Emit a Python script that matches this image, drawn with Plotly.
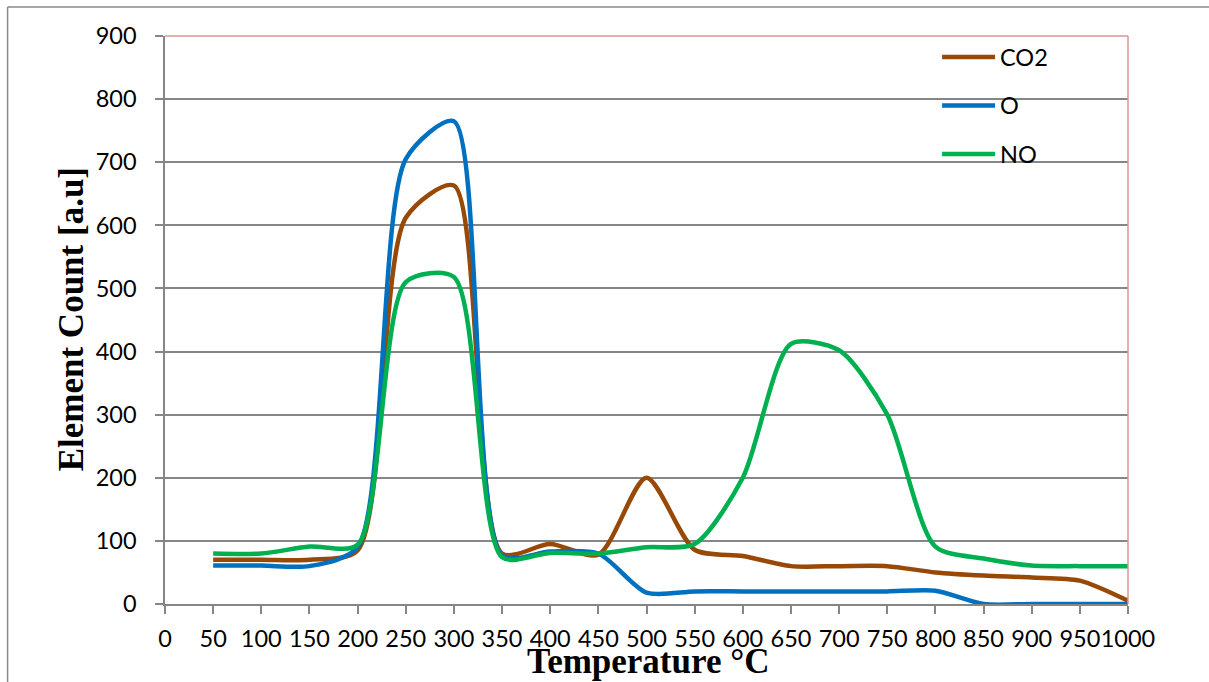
import plotly.graph_objects as go

# ---- data ----
temperature = [50, 100, 150, 200, 250, 300, 350, 400, 450, 500,
               550, 600, 650, 700, 750, 800, 850, 900, 950, 1000]
co2 = [70, 70, 70, 85, 612, 663, 80, 95, 78, 200,
       86, 76, 60, 60, 60, 50, 45, 42, 37, 5]
o = [61, 61, 60, 90, 705, 765, 77, 83, 80, 18,
     20, 20, 20, 20, 20, 21, 0, 0, 0, 0]
no = [80, 80, 91, 94, 510, 518, 74, 81, 80, 90,
      95, 200, 412, 402, 300, 91, 72, 61, 60, 60]
series_names = ["CO2", "O", "NO"]
series_values = [co2, o, no]
series_colors = ["#984807", "#0070C0", "#00B050"]
x_ticks = list(range(0, 1001, 50))
y_ticks = list(range(0, 901, 100))

W, H = 1209, 682
L, R, T, B = 164.5, 1128.0, 36.0, 604.5


def px_x(p):
    return (p - L) / (R - L)


def px_y(p):
    return (B - p) / (B - T)


fig = go.Figure()
for name, vals, col in zip(series_names, series_values, series_colors):
    fig.add_trace(go.Scatter(
        x=temperature, y=vals, name=name, mode="lines",
        line=dict(color=col, width=4.5, shape="spline", smoothing=0.75),
        showlegend=False, hoverinfo="skip",
    ))

grid_col = "#868686"
tick_font = dict(family="Lato", size=23.5, color="#000000")

fig.update_layout(
    width=W, height=H,
    margin=dict(l=L, r=W - R, t=T, b=H - B, pad=0, autoexpand=False),
    paper_bgcolor="white", plot_bgcolor="white",
    xaxis=dict(
        range=[0, 1000], tickvals=x_ticks, ticktext=[str(v) for v in x_ticks],
        tickangle=0, showgrid=False, zeroline=False, automargin=False,
        showline=True, linecolor=grid_col, linewidth=1.5,
        ticks="outside", ticklen=8, tickcolor=grid_col, tickwidth=1.5,
        tickfont=tick_font, ticklabelstandoff=5,
    ),
    yaxis=dict(
        range=[0, 900], tickvals=y_ticks, ticktext=[str(v) for v in y_ticks],
        showgrid=True, gridcolor=grid_col, gridwidth=1.5, zeroline=False,
        automargin=False,
        showline=True, linecolor=grid_col, linewidth=1.5,
        ticks="outside", ticklen=8, tickcolor=grid_col, tickwidth=1.5,
        tickfont=tick_font, ticklabelstandoff=14,
    ),
)

shapes = []
# pink top and right plot border
shapes.append(dict(type="line", xref="paper", yref="paper", x0=0, x1=1, y0=1, y1=1,
                   line=dict(color="#D99694", width=1.5)))
shapes.append(dict(type="line", xref="paper", yref="paper", x0=1, x1=1, y0=0, y1=1,
                   line=dict(color="#D99694", width=1.5)))
# outer chart border (left and top)
shapes.append(dict(type="line", xref="paper", yref="paper", x0=px_x(7), x1=px_x(7),
                   y0=px_y(7), y1=px_y(700), line=dict(color="#898989", width=1.5)))
shapes.append(dict(type="line", xref="paper", yref="paper", x0=px_x(7), x1=px_x(1215),
                   y0=px_y(7), y1=px_y(7), line=dict(color="#898989", width=1.5)))

annotations = []
# manual legend
legend_y = [57, 105.5, 154]
for name, col, ly in zip(series_names, series_colors, legend_y):
    shapes.append(dict(type="line", xref="paper", yref="paper",
                       x0=px_x(942), x1=px_x(995), y0=px_y(ly), y1=px_y(ly),
                       line=dict(color=col, width=4.5)))
    annotations.append(dict(text=name, xref="paper", yref="paper",
                            x=px_x(998), y=px_y(ly), xanchor="left", yanchor="middle",
                            showarrow=False, font=dict(family="Lato", size=23.5, color="#000")))

# axis titles
annotations.append(dict(text="<b>Temperature °C</b>", xref="paper", yref="paper",
                        x=px_x(648), y=px_y(662), xanchor="center", yanchor="middle",
                        showarrow=False,
                        font=dict(family="Liberation Serif", size=35, color="#000")))
annotations.append(dict(text="<b>Element Count [a.u]</b>", xref="paper", yref="paper",
                        x=px_x(71), y=px_y(320), xanchor="center", yanchor="middle",
                        textangle=-90, showarrow=False,
                        font=dict(family="Liberation Serif", size=35, color="#000")))

fig.update_layout(shapes=shapes, annotations=annotations)
fig.write_html("out.html", config={"displayModeBar": False},
               post_script="document.body.style.margin='0';document.body.style.overflow='hidden';")
